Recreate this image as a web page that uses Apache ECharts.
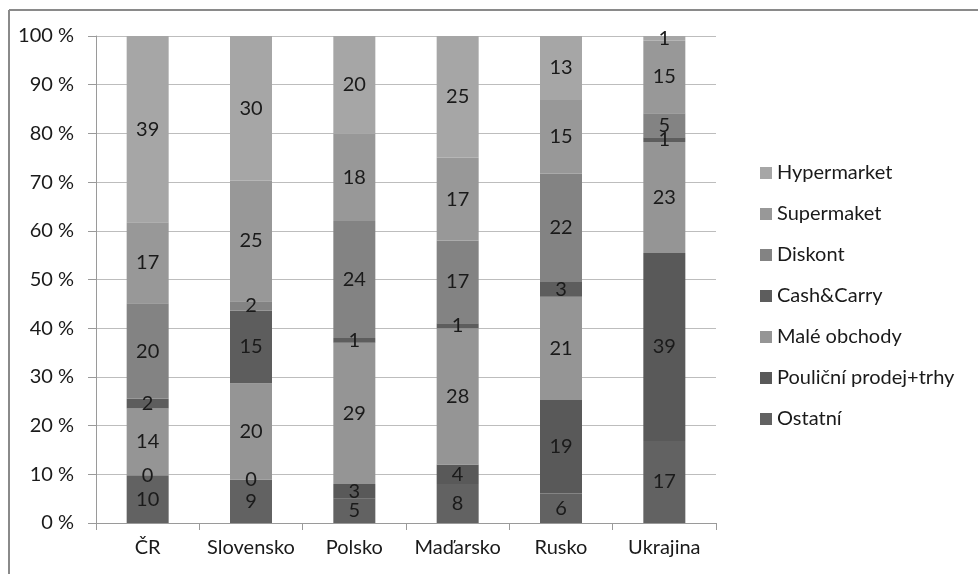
<!DOCTYPE html>
<html>
<head>
<meta charset="utf-8">
<script src="https://cdn.jsdelivr.net/npm/echarts@6/dist/echarts.min.js"></script>
<style>html,body{margin:0;padding:0;background:#fff}#c{width:978px;height:574px}</style>
</head>
<body>
<div id="c"></div>
<script>
var categories = ['ČR', 'Slovensko', 'Polsko', 'Maďarsko', 'Rusko', 'Ukrajina'];
var ostatni   = [10, 9, 5, 8, 6, 17];
var poulicni  = [0, 0, 3, 4, 19, 39];
var male      = [14, 20, 29, 28, 21, 23];
var cashCarry = [2, 15, 1, 1, 3, 1];
var diskont   = [20, 2, 24, 17, 22, 5];
var supermaket = [17, 25, 18, 17, 15, 15];
var hypermarket = [39, 30, 20, 25, 13, 1];
var yTicks = [0, 10, 20, 30, 40, 50, 60, 70, 80, 90, 100];

var seriesDefs = [
  {name: 'Ostatní', data: ostatni, color: '#626262'},
  {name: 'Pouliční prodej+trhy', data: poulicni, color: '#595959'},
  {name: 'Malé obchody', data: male, color: '#959595'},
  {name: 'Cash&Carry', data: cashCarry, color: '#5d5d5d'},
  {name: 'Diskont', data: diskont, color: '#838383'},
  {name: 'Supermaket', data: supermaket, color: '#989898'},
  {name: 'Hypermarket', data: hypermarket, color: '#a6a6a6'}
];

var totals = categories.map(function (c, i) {
  var s = 0;
  seriesDefs.forEach(function (d) { s += d.data[i]; });
  return s;
});

var font = 'Lato, "Open Sans", sans-serif';

var series = seriesDefs.map(function (d) {
  return {
    name: d.name,
    type: 'bar',
    stack: 'total',
    barWidth: 42,
    itemStyle: {color: d.color},
    emphasis: {disabled: true},
    label: {
      show: true,
      position: 'inside',
      color: '#1a1a1a',
      fontFamily: font,
      fontSize: 20,
      formatter: function (p) { return d.data[p.dataIndex]; }
    },
    data: d.data.map(function (v, i) { return v / totals[i] * 100; })
  };
});

var chart = echarts.init(document.getElementById('c'), null, {renderer: 'canvas'});
chart.setOption({
  animation: false,
  backgroundColor: '#fff',
  grid: {left: 96, right: 262, top: 36, bottom: 51, containLabel: false},
  legend: {
    orient: 'vertical',
    left: 755,
    top: 158,
    padding: 5,
    itemWidth: 12,
    itemHeight: 12,
    itemGap: 21,
    icon: 'rect',
    data: seriesDefs.map(function (d) { return d.name; }).reverse(),
    textStyle: {fontFamily: font, fontSize: 20, color: '#1a1a1a', lineHeight: 20}
  },
  xAxis: {
    type: 'category',
    data: categories,
    axisLine: {show: true, lineStyle: {color: '#9a9a9a', width: 1}},
    axisTick: {show: true, length: 7, lineStyle: {color: '#9a9a9a'}},
    axisLabel: {interval: 0, fontFamily: font, fontSize: 20, color: '#1a1a1a', margin: 15}
  },
  yAxis: {
    type: 'value',
    min: yTicks[0],
    max: yTicks[yTicks.length - 1],
    interval: yTicks[1] - yTicks[0],
    axisLine: {show: true, lineStyle: {color: '#9a9a9a', width: 1}},
    axisTick: {show: true, length: 8, lineStyle: {color: '#9a9a9a'}},
    splitLine: {show: true, lineStyle: {color: '#bdbdbd', width: 1}},
    axisLabel: {fontFamily: font, fontSize: 20, color: '#1a1a1a', margin: 22, formatter: '{value} %'}
  },
  graphic: [
    {type: 'line', shape: {x1: 9, y1: 10, x2: 978, y2: 10}, style: {stroke: '#8a8a8a', lineWidth: 2}, silent: true},
    {type: 'line', shape: {x1: 9, y1: 10, x2: 9, y2: 574}, style: {stroke: '#8a8a8a', lineWidth: 2}, silent: true}
  ],
  series: series
});
</script>
</body>
</html>
